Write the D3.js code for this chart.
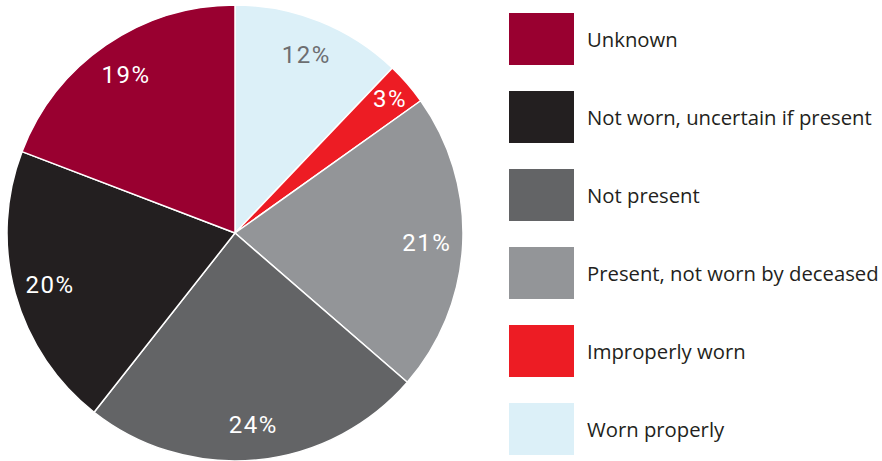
<!DOCTYPE html>
<html><head><meta charset="utf-8">
<script src="https://cdn.jsdelivr.net/npm/d3@7"></script>
<style>body{margin:0;background:#fff}svg{display:block}</style>
</head><body>
<svg id="c" width="882" height="461"></svg>
<script>
const categories = ["Worn properly","Improperly worn","Present, not worn by deceased","Not present","Not worn, uncertain if present","Unknown"];
const values = [12, 3, 21, 24, 20, 19];
const colors = ["#dcf0f8","#ed1c24","#939598","#636466","#231f20","#990030"];
const labelColors = ["#6d6e71","#fff","#fff","#fff","#fff","#fff"];
const legendOrder = ["Unknown","Not worn, uncertain if present","Not present","Present, not worn by deceased","Improperly worn","Worn properly"];

const svg = d3.select("#c");
const cx = 235, cy = 233, R = 228;
const pie = d3.pie().sort(null).value(d => d.v);
const data = categories.map((c,i)=>({c, v: values[i], i}));
const arcs = pie(data);
const arc = d3.arc().innerRadius(0).outerRadius(R);
const g = svg.append("g").attr("transform", `translate(${cx},${cy})`);
g.selectAll("path").data(arcs).join("path")
  .attr("d", arc).attr("fill", d => colors[d.data.i])
  .attr("stroke", "#fff").attr("stroke-width", 1.5).attr("stroke-linejoin","round");
g.selectAll("text").data(arcs).join("text")
  .attr("transform", d => {
    const r = d.data.v < 5 ? 205 : 192;
    const a = (d.startAngle + d.endAngle)/2;
    return `translate(${r*Math.sin(a)},${-r*Math.cos(a)})`;
  })
  .attr("text-anchor","middle").attr("dy","0.36em")
  .attr("fill", d => labelColors[d.data.i])
  .style("font-family","Roboto, 'DejaVu Sans', sans-serif").style("font-size","24px")
  .style("letter-spacing","1.5px")
  .text(d => d.data.v + "%");

const y = d3.scaleBand().domain(legendOrder).range([13, 455]).paddingInner(1/3).paddingOuter(0);
const lg = svg.append("g");
const item = lg.selectAll("g").data(legendOrder).join("g")
  .attr("transform", d => `translate(509,${y(d)})`);
item.append("rect").attr("width", 65).attr("height", y.bandwidth())
  .attr("fill", d => colors[categories.indexOf(d)]);
item.append("text").attr("x", 78).attr("y", y.bandwidth()/2 + 1).attr("dy","0.36em")
  .attr("fill","#231f20")
  .style("font-family","'Open Sans', 'Noto Sans', sans-serif").style("font-size","20.3px")
  .text(d => d);
</script>
</body></html>
